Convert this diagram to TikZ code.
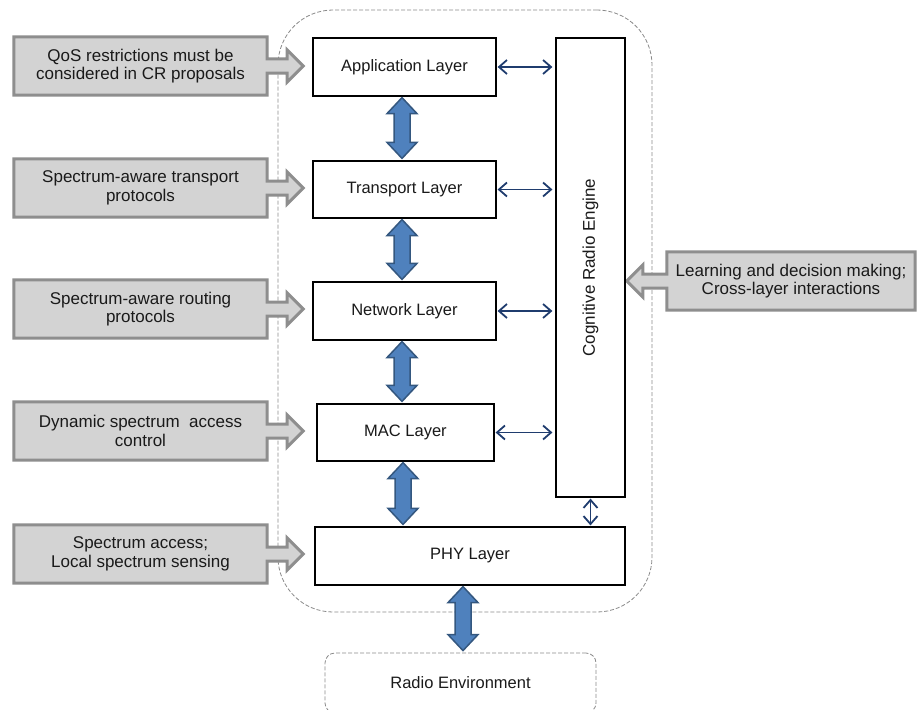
\documentclass[tikz,border=0pt]{standalone}
\usepackage{fontspec}
\setmainfont{Liberation Sans}
\usetikzlibrary{calc,arrows.meta}
\definecolor{gfill}{HTML}{D3D3D3}
\definecolor{gline}{HTML}{8E8E8E}
\definecolor{bfill}{HTML}{4F81BD}
\definecolor{bline}{HTML}{34577F}
\definecolor{navy}{HTML}{1F3C6E}
\definecolor{dashgray}{HTML}{8A8A8A}
\definecolor{txt}{HTML}{1A1A1A}
\pgfdeclarelayer{bg}
\pgfsetlayers{bg,main}
\newcommand\leftarr[1]{%
  \draw[garrow] (#1.north west) -- (#1.north east) -- ($(#1.east)+(0,-7)$) -- ($(#1.east)+(20,-7)$)
    -- ($(#1.east)+(20,-16)$) -- ($(#1.east)+(36,0)$) -- ($(#1.east)+(20,16)$) -- ($(#1.east)+(20,7)$)
    -- ($(#1.east)+(0,7)$) -- (#1.south east) -- (#1.south west) -- cycle;}
\newcommand\fatarr[3]{%
  \draw[fatarrow] let \p1=(#3.north), \p2=(#2.south) in
   ({#1pt},{\y2-1pt}) -- ({#1pt+15pt},{\y2-17pt}) -- ({#1pt+8pt},{\y2-17pt}) -- ({#1pt+8pt},{\y1+18pt})
   -- ({#1pt+15pt},{\y1+18pt}) -- ({#1pt},{\y1+2pt}) -- ({#1pt-15pt},{\y1+18pt}) -- ({#1pt-8pt},{\y1+18pt})
   -- ({#1pt-8pt},{\y2-17pt}) -- ({#1pt-15pt},{\y2-17pt}) -- cycle;}
\begin{document}
\begin{tikzpicture}[x=1pt,y=-1pt, text=txt,
  font=\fontsize{17}{18.5}\selectfont,
  layer/.style={draw=black, line width=1.2pt, fill=white, inner sep=0pt, font=\fontsize{16.5}{18}\selectfont},
  side/.style={align=center, inner sep=0pt, minimum width=253pt, minimum height=58pt},
  garrow/.style={draw=gline, fill=gfill, line width=3pt, line join=miter},
  fatarrow/.style={draw=bline, fill=bfill, line width=1.5pt, line join=miter},
  navyarrow/.style={draw=navy, line width=1.8pt, {Straight Barb[length=8pt,width=14pt]}-{Straight Barb[length=8pt,width=14pt]}},
  dashbox/.style={draw=dashgray, line width=0.8pt, dash pattern=on 4pt off 2pt},
]
\useasboundingbox (0,0) rectangle (920,709);

% layer stack
\node[layer, minimum width=183pt, minimum height=58pt] (app) at (404.5,67) {Application Layer};
\node[layer, minimum width=183pt, minimum height=57pt] (trans) at (404.5,189.5) {Transport Layer};
\node[layer, minimum width=183pt, minimum height=58pt] (net) at (404.5,311) {Network Layer};
\node[layer, minimum width=177pt, minimum height=57pt] (mac) at (405.5,432.5) {MAC Layer};
\node[layer, minimum width=310pt, minimum height=58pt] (phy) at (470,556) {PHY Layer};
\node[layer, minimum width=69pt, minimum height=459pt] (cre) at (590.5,267.5) {};
\node[rotate=90] (cretext) at (cre.center) {Cognitive Radio Engine};
\node[dashbox, rounded corners=10pt, minimum width=271pt, minimum height=60pt, font=\fontsize{16.5}{18}\selectfont] (radio) at (460.5,683) {Radio Environment};

% side notes
\node[side] (s1) at (140.5,66) {QoS restrictions must be\\considered in CR proposals};
\node[side] (s2) at (140.5,188) {Spectrum-aware transport\\protocols};
\node[side] (s3) at (140.5,309) {Spectrum-aware routing\\protocols};
\node[side] (s4) at (140.5,431) {Dynamic spectrum\ \ access\\control};
\node[side] (s5) at (140.5,554) {Spectrum access;\\Local spectrum sensing};
\node[side, minimum width=248pt] (s6) at (791,281) {Learning and decision making;\\Cross-layer interactions};

\begin{pgfonlayer}{bg}
  \node[dashbox, rounded corners=55pt, minimum width=374pt, minimum height=602pt] (stack) at (465,311) {};
  \leftarr{s1}\leftarr{s2}\leftarr{s3}\leftarr{s4}\leftarr{s5}
  \draw[garrow] (s6.north east) -- (s6.north west) -- ($(s6.west)+(0,-7)$) -- ($(s6.west)+(-24,-7)$)
    -- ($(s6.west)+(-24,-16)$) -- ($(s6.west)+(-40,0)$) -- ($(s6.west)+(-24,16)$) -- ($(s6.west)+(-24,7)$)
    -- ($(s6.west)+(0,7)$) -- (s6.south west) -- (s6.south east) -- cycle;
\end{pgfonlayer}

% fat arrows
\fatarr{402}{app}{trans}
\fatarr{402}{trans}{net}
\fatarr{402}{net}{mac}
\fatarr{403}{mac}{phy}
\fatarr{463}{phy}{radio}

% thin arrows to the engine
\draw[navyarrow] ([xshift=1pt]app.east) -- ([xshift=-3pt]cre.west |- app.east);
\draw[navyarrow] ([xshift=1pt]trans.east) -- ([xshift=-3pt]cre.west |- trans.east);
\draw[navyarrow] ([xshift=1pt]net.east) -- ([xshift=-3pt]cre.west |- net.east);
\draw[navyarrow] ([xshift=1pt]mac.east) -- ([xshift=-3pt]cre.west |- mac.east);
\draw[navyarrow] ([yshift=-1pt]cre.south) -- ([yshift=1pt]cre.south |- phy.north);
\end{tikzpicture}
\end{document}
